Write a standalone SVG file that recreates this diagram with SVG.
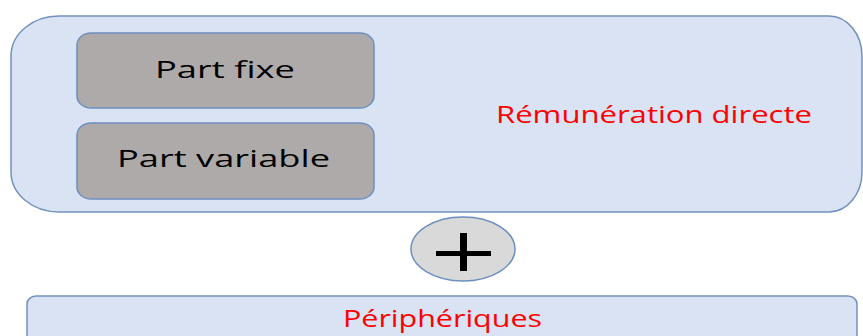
<svg xmlns="http://www.w3.org/2000/svg" width="863" height="336" viewBox="0 0 863 336">
<style>
.outer{fill:#dae3f3;stroke:#7192bd;stroke-width:1.5}
.inner{fill:#aeaaaa;stroke:#6d8fbf;stroke-width:1.5}
.circ{fill:#d9d9d9;stroke:#6d8fbf;stroke-width:1.5}
.t{font-family:"Open Sans","Liberation Sans",sans-serif;font-size:23px}
.blk{fill:#000000}
.red{fill:#ff0000}
</style>
<rect width="863" height="336" fill="#ffffff"/>
<g id="remuneration-directe">
<path class="outer" d="M59 16 H829 A33 40 0 0 1 862 56 V172 A33 40 0 0 1 829 212 H59 A48 40 0 0 1 11 172 V56 A48 40 0 0 1 59 16 Z"/>
<text class="t red" x="496" y="123" textLength="316" lengthAdjust="spacingAndGlyphs">Rémunération directe</text>
</g>
<g id="part-fixe">
<rect class="inner" x="77" y="33" width="297" height="75" rx="14" ry="12"/>
<text class="t blk" x="155" y="78" textLength="140" lengthAdjust="spacingAndGlyphs">Part fixe</text>
</g>
<g id="part-variable">
<rect class="inner" x="77" y="123" width="297" height="76" rx="14" ry="12"/>
<text class="t blk" x="117" y="167" textLength="213" lengthAdjust="spacingAndGlyphs">Part variable</text>
</g>
<g id="plus">
<ellipse class="circ" cx="463" cy="249" rx="52" ry="32"/>
<rect x="436" y="251" width="55" height="5" fill="#000"/>
<rect x="460" y="233" width="7" height="38" fill="#000"/>
</g>
<g id="peripheriques">
<rect class="outer" x="27" y="296" width="830" height="60" rx="9" ry="8"/>
<text class="t red" x="343" y="327" textLength="199" lengthAdjust="spacingAndGlyphs">Périphériques</text>
</g>
<g id="connectors"/>
</svg>
